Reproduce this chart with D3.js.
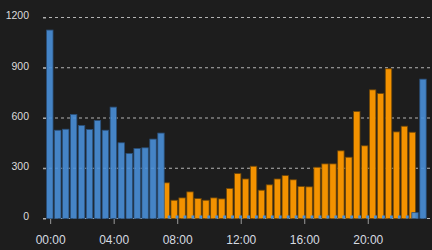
<!DOCTYPE html>
<html><head><meta charset="utf-8">
<script src="https://cdn.jsdelivr.net/npm/d3@7"></script>
<style>
html,body{margin:0;padding:0;background:#1d1d1d;}
svg{display:block;}
</style></head>
<body>
<svg id="chart" width="432" height="250"></svg>
<script>
// ---- data ----
const times = d3.range(48).map(i => String(Math.floor(i/2)).padStart(2,'0') + (i%2 ? ':30' : ':00'));
const N = null;
const offPeak = [1125,527,533,621,555,531,585,527,665,452,388,418,422,474,510,
  N,N,N,N,N,N,N,N,N,N,N,N,N,N,N,N,N,N,N,N,N,N,N,N,N,N,N,N,N,N,N,
  35,832];
const peak = [N,N,N,N,N,N,N,N,N,N,N,N,N,N,N,
  213,109,123,159,119,109,123,117,179,268,236,312,169,201,236,256,
  231,191,189,306,326,326,404,366,639,434,768,746,894,517,551,515,
  N];
const standby = [N,N,N,N,N,N,N,N,N,N,N,N,N,N,N,
  18,18,18,18,18,18,18,18,18,18,18,18,18,18,18,18,
  18,18,18,18,18,18,18,18,18,18,18,18,18,18,18,
  N,N];
const yTicks = [0,300,600,900,1200];
const xTickLabels = ["00:00","04:00","08:00","12:00","16:00","20:00"];

// ---- chart ----
const svg = d3.select("#chart");
svg.append("rect").attr("width",432).attr("height",250).attr("fill","#1d1d1d");

const x = d3.scaleBand().domain(times).range([46, 427.1]).padding(0);
const y = d3.scaleLinear().domain([0,1200]).range([218.5,17.5]);
const bw = x.bandwidth();

// gridlines
svg.append("g").selectAll("line").data(yTicks).join("line")
  .attr("x1",43).attr("x2",432)
  .attr("y1",d=>y(d)).attr("y2",d=>y(d))
  .attr("stroke","#b4b4b4").attr("stroke-width",1)
  .attr("stroke-dasharray","3,3");

// peak (orange) bars
const pk = times.map((t,i)=>({t, v:peak[i]})).filter(d=>d.v!=null);
svg.append("g").selectAll("rect").data(pk).join("rect")
  .attr("x",d=>x(d.t)-2.7+0.6).attr("width",bw-1.5)
  .attr("y",d=>y(d.v)).attr("height",d=>y(0)-y(d.v))
  .attr("fill","#f39200").attr("stroke","#6e4608").attr("stroke-width",0.8);

// standby markers (blue, low)
const sb = times.map((t,i)=>({t, v:standby[i]})).filter(d=>d.v!=null);
svg.append("g").selectAll("rect").data(sb).join("rect")
  .attr("x",d=>x(d.t)+2.6).attr("width",2.8)
  .attr("y",d=>y(d.v)).attr("height",d=>y(0)-y(d.v))
  .attr("fill","#4a90d9");

// off-peak (blue) bars
const op = times.map((t,i)=>({t, v:offPeak[i]})).filter(d=>d.v!=null);
svg.append("g").selectAll("rect").data(op).join("rect")
  .attr("x",d=>x(d.t)+0.6).attr("width",bw-1.5)
  .attr("y",d=>y(d.v)).attr("height",d=>y(0)-y(d.v))
  .attr("fill","#4a90d9").attr("fill-opacity",0.9)
  .attr("stroke","#2a4f78").attr("stroke-width",0.8);

// y axis
const yAxis = svg.append("g").attr("transform","translate(46,0)")
  .call(d3.axisLeft(y).tickValues(yTicks).tickSize(3).tickPadding(14).tickFormat(d3.format("d")));
yAxis.select(".domain").remove();
yAxis.selectAll("line").attr("stroke","#aaa");
yAxis.selectAll("text").attr("fill","#dcdcdc").attr("font-family","'Liberation Sans', Arial, sans-serif")
  .attr("font-size","10.5px").attr("dy","0.12em");

// x axis
const xAxis = svg.append("g").attr("transform","translate(0,219)")
  .call(d3.axisBottom(x).tickValues(xTickLabels).tickSize(5).tickPadding(11));
xAxis.select(".domain").remove();
xAxis.selectAll(".tick").attr("transform", d => `translate(${x(d)+bw/2+0.7},0)`);
xAxis.selectAll("line").attr("stroke","#9a9a9a");
xAxis.selectAll("text").attr("fill","#d6dbe0").attr("font-family","'Liberation Sans', Arial, sans-serif")
  .attr("font-size","12px");
</script>
</body></html>
